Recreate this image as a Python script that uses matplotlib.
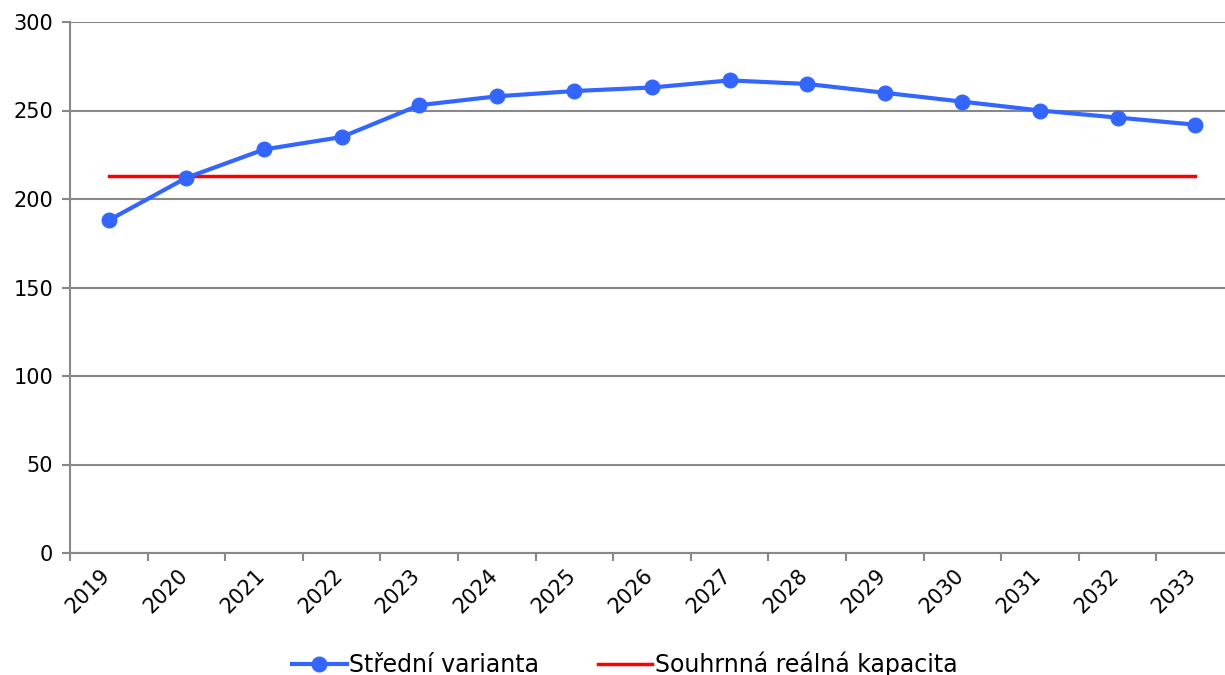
import numpy as np
import matplotlib
matplotlib.use('Agg')
import matplotlib.pyplot as plt
import matplotlib.transforms as mtransforms

plt.rcParams['font.family'] = ['DejaVu Sans']

years = ['2019', '2020', '2021', '2022', '2023', '2024', '2025', '2026',
         '2027', '2028', '2029', '2030', '2031', '2032', '2033']
stredni = [188, 212, 228, 235, 253, 258, 261, 263, 267, 265, 260, 255, 250, 246, 242]
kapacita = [213] * len(years)

grey = '#888888'

fig = plt.figure(figsize=(12.25, 6.75), dpi=100)
# plot area runs a bit past the right edge of the image, as in the original
ax = fig.add_axes([70/1225, 1-553/675, (1234-70)/1225, (553-22)/675])

x = np.arange(len(years))
ax.plot(x, stredni, color='#3366FF', lw=3, marker='o', ms=10.5,
        label='Střední varianta', zorder=3)
ax.plot(x, kapacita, color='#FF0000', lw=2.5,
        label='Souhrnná reálná kapacita', zorder=2)

ax.set_xlim(-0.5, len(years) - 0.5)
ax.set_ylim(0, 300)
ax.set_yticks(np.arange(0, 301, 50))
ax.yaxis.grid(True, color=grey, lw=1.5)
ax.set_axisbelow(True)

ax.set_xticks(x)
ax.set_xticklabels(years, rotation=45, ha='right')
ax.set_xticks(np.arange(-0.5, len(years), 1), minor=True)
ax.tick_params(axis='x', which='major', length=0, pad=9, labelsize=15)
ax.tick_params(axis='x', which='minor', length=6, width=1.5, color=grey)
ax.tick_params(axis='y', length=6, width=1.5, color=grey, labelsize=15, pad=6)

# nudge the rotated year labels a little to the right
offset = mtransforms.ScaledTranslation(5/100, 0, fig.dpi_scale_trans)
for lab in ax.get_xticklabels():
    lab.set_transform(lab.get_transform() + offset)

for s in ['top', 'right']:
    ax.spines[s].set_visible(False)
for s in ['left', 'bottom']:
    ax.spines[s].set_color(grey)
    ax.spines[s].set_linewidth(1.5)

fig.legend(loc='lower center', bbox_to_anchor=(0.51, -0.035), ncol=2,
           frameon=False, fontsize=17, handlelength=2.3, handletextpad=0.1,
           columnspacing=2.5)

fig.savefig('out.png', dpi=100)
